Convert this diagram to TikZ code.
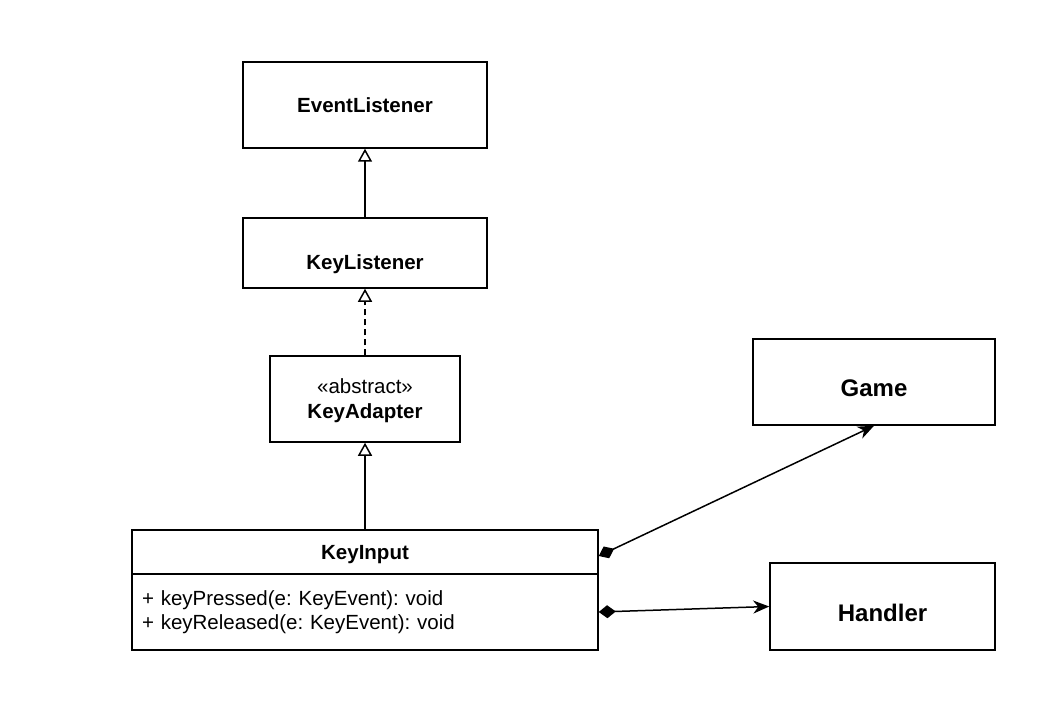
\documentclass[tikz,border=0pt]{standalone}
\usepackage{fontspec}
\setmainfont{Liberation Sans}
\usepackage{tikz}
\usetikzlibrary{arrows.meta,positioning}
\tikzset{
  cls/.style={draw, line width=1.5pt, minimum height=86pt, inner sep=0pt,
    font=\fontsize{20.5}{25}\selectfont\bfseries, align=center},
  big/.style={font=\fontsize{24}{28}\selectfont\bfseries},
  gen/.style={-{Triangle[open,length=13pt,width=14pt]}},
  comp/.style={{Diamond[length=17pt,width=13pt]}-{Stealth[length=16pt,width=13pt,inset=5pt]}},
}
\newcommand{\down}[2]{\raisebox{-#1}[\height][\depth]{#2}}
\frenchspacing
\begin{document}
\begin{tikzpicture}[x=1pt,y=-1pt,line width=1.5pt]
  \useasboundingbox (0,0) rectangle (1043,711);

  \node[cls, minimum width=244pt] (EL) at (365,105) {EventListener};
  \node[cls, minimum width=244pt, minimum height=70pt, below=68.5pt of EL] (KL) {\down{11pt}{KeyListener}};
  \node[cls, minimum width=190pt, below=66.5pt of KL] (KA)
    {\down{2pt}{\shortstack{{\mdseries «abstract»}\\[7pt]KeyAdapter}}};
  \node[cls, minimum width=466pt, minimum height=44pt, below=86.5pt of KA] (KIh) {\down{3pt}{KeyInput}};
  \node[cls, minimum width=466pt, minimum height=76pt, below=-1.5pt of KIh,
    text width=446pt, inner xsep=10pt, align=left, font=\fontsize{20.5}{24}\selectfont] (KIb)
    {+ keyPressed(e: KeyEvent): void\\+ keyReleased(e: KeyEvent): void};
  \node[cls, big, minimum width=242pt] (G) at (874,382) {\down{6pt}{Game}};
  \node[cls, big, minimum width=225pt, minimum height=87pt] (H) at (882.5,606.5) {\down{6.5pt}{Handler}};

  \path (KL) edge[gen] (EL);
  \path (KA) edge[gen, dash pattern=on 6pt off 4pt] (KL);
  \path (KIh) edge[gen] (KA);
  \path ([yshift=-4pt]KIh.east) edge[comp] (G.south);
  \path (KIb.east) edge[comp] (H.west);

\end{tikzpicture}
\end{document}
